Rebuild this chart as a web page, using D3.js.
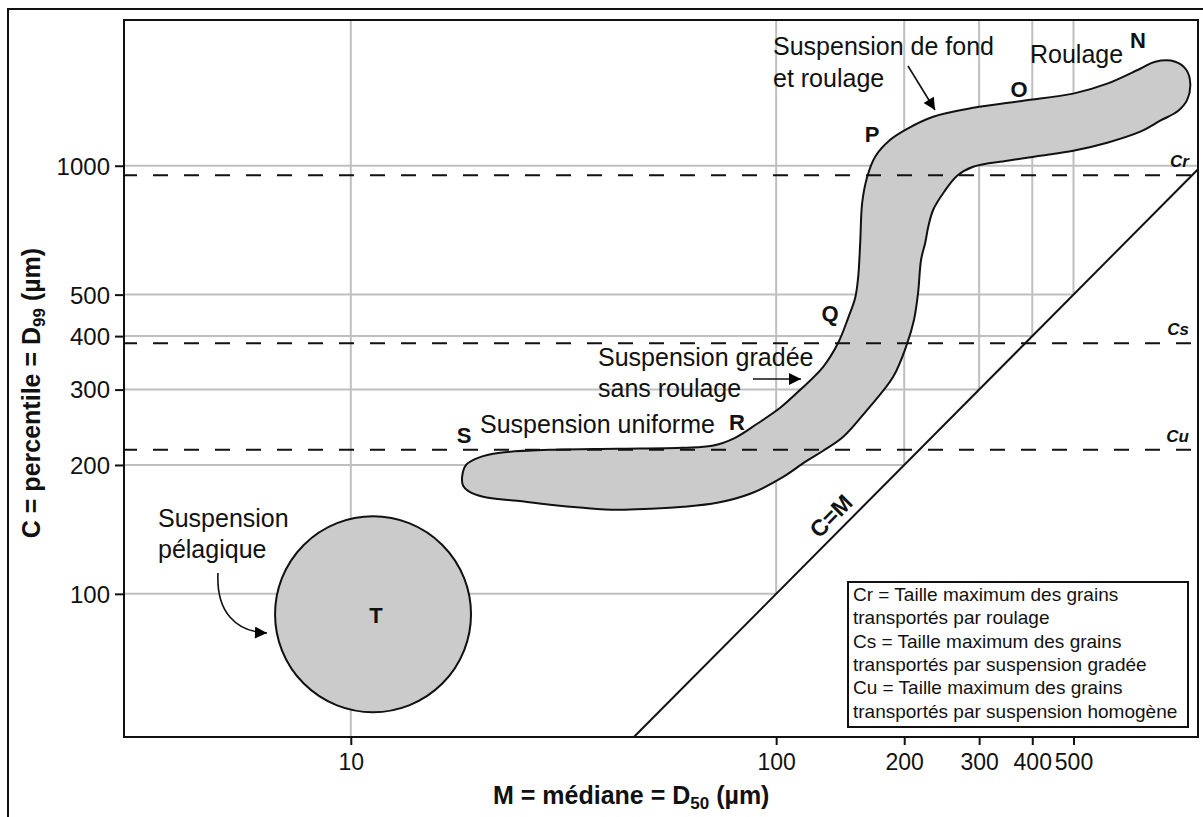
<!DOCTYPE html>
<html>
<head>
<meta charset="utf-8">
<script src="https://cdn.jsdelivr.net/npm/d3@7"></script>
<style>
  body { margin: 0; background: #fff; }
  svg { display: block; }
  text { font-family: "Liberation Sans", Arial, Helvetica, sans-serif; fill: #111; }
</style>
</head>
<body>
<svg id="chart" width="1203" height="817"></svg>
<script>
// ---- Passega C–M diagram data ----
const xDomain = [2.93, 981];      // M (µm), log axis
const yDomain = [46.3, 2190];     // C (µm), log axis
const xTicks = [10, 100, 200, 300, 400, 500];
const yTicks = [100, 200, 300, 400, 500, 1000];

const thresholdNames = ["Cr", "Cs", "Cu"];
const thresholdValues = [950, 385, 217];

// N-O-P-Q-R-S field outline, [M, C] in µm, clockwise from the S end
const bandOutline = [
  [18.27, 187.6], [18.67, 200.1], [19.92, 207.8], [22.45, 213.5], [29.41, 217.0],
  [42.28, 218.2], [60.44, 219.4], [70.71, 221.7], [80.09, 231.5], [90.23, 249.6],
  [102.2, 272.0], [113.9, 299.6], [129.0, 339.1], [139.9, 385.9], [147.7, 441.4],
  [153.4, 491.6], [155.9, 550.3], [157.6, 660.9], [159.3, 819.5], [163.7, 942.6],
  [170.9, 1050], [185.4, 1150], [203.2, 1220], [234.0, 1302], [290.5, 1366],
  [380.9, 1419], [499.3, 1474], [600.1, 1555], [717.6, 1685], [778.3, 1750],
  [867.4, 1750], [920.6, 1676], [940.8, 1555], [925.6, 1427], [881.6, 1344],
  [799.6, 1274], [717.6, 1201], [600.1, 1132], [499.3, 1084], [417.6, 1055],
  [349.3, 1027], [290.5, 994.6], [266.4, 947.7], [248.3, 869.5], [234.0, 789.2],
  [227.8, 720.2], [224.1, 660.9], [219.1, 603.0], [215.6, 505.0], [210.9, 436.7],
  [203.1, 383.8], [188.4, 321.3], [163.7, 269.1], [143.8, 232.7], [129.0, 215.9],
  [117.0, 203.4], [103.9, 187.6], [86.88, 171.3], [72.65, 163.2], [60.44, 159.7],
  [50.56, 158.0], [42.28, 157.1], [35.17, 158.8], [29.41, 161.4], [24.61, 164.9],
  [20.47, 168.5], [18.87, 174.0], [18.37, 178.8]
];

// T field (pelagic suspension): centre and horizontal extent
const pelagicCenter = [11.28, 89.6];
const pelagicSpanM = [6.64, 19.18];

const legendLines = [
  "Cr = Taille maximum des grains",
  "transportés par roulage",
  "Cs = Taille maximum des grains",
  "transportés par suspension gradée",
  "Cu = Taille maximum des grains",
  "transportés par suspension homogène"
];

// ---- layout ----
const svg = d3.select("#chart");
const plot = { left: 124, top: 20, right: 1198, bottom: 737 };

const x = d3.scaleLog().domain(xDomain).range([plot.left, plot.right]);
const y = d3.scaleLog().domain(yDomain).range([plot.bottom, plot.top]);

const defs = svg.append("defs");
defs.append("clipPath").attr("id", "plotClip")
  .append("rect")
  .attr("x", plot.left).attr("y", plot.top)
  .attr("width", plot.right - plot.left).attr("height", plot.bottom - plot.top);
defs.append("marker")
  .attr("id", "arrowHead")
  .attr("viewBox", "0 0 10 10")
  .attr("refX", 10).attr("refY", 5)
  .attr("markerUnits", "userSpaceOnUse")
  .attr("markerWidth", 17).attr("markerHeight", 12)
  .attr("orient", "auto")
  .append("path").attr("d", "M0,0 L10,5 L0,10 Z").attr("fill", "#000");

// outer frame
svg.append("path")
  .attr("d", "M8,817 V9 H1203")
  .attr("fill", "none").attr("stroke", "#111").attr("stroke-width", 2);

const inner = svg.append("g").attr("clip-path", "url(#plotClip)");

// grid only in the C >= M half of the diagram
inner.append("g").selectAll("line.vgrid").data(xTicks).join("line")
  .attr("x1", d => x(d)).attr("x2", d => x(d))
  .attr("y1", y(yDomain[1]))
  .attr("y2", d => y(Math.max(d, yDomain[0])))
  .attr("stroke", "#bfbfbf").attr("stroke-width", 2);
inner.append("g").selectAll("line.hgrid").data(yTicks).join("line")
  .attr("y1", d => y(d)).attr("y2", d => y(d))
  .attr("x1", x(xDomain[0]))
  .attr("x2", d => x(Math.min(d, xDomain[1])))
  .attr("stroke", "#bfbfbf").attr("stroke-width", 2);

// C = M line
inner.append("line")
  .attr("x1", x(yDomain[0])).attr("y1", y(yDomain[0]))
  .attr("x2", x(xDomain[1])).attr("y2", y(xDomain[1]))
  .attr("stroke", "#111").attr("stroke-width", 2);

// N-O-P-Q-R-S field
const bandLine = d3.line()
  .x(d => x(d[0])).y(d => y(d[1]))
  .curve(d3.curveCatmullRomClosed.alpha(0.5));
inner.append("path")
  .attr("d", bandLine(bandOutline))
  .attr("fill", "#cbcbcb").attr("stroke", "#111").attr("stroke-width", 2);

// T field
const tRadius = (x(pelagicSpanM[1]) - x(pelagicSpanM[0])) / 2;
inner.append("circle")
  .attr("cx", x(pelagicCenter[0])).attr("cy", y(pelagicCenter[1]))
  .attr("r", tRadius)
  .attr("fill", "#cbcbcb").attr("stroke", "#111").attr("stroke-width", 2);

// Cr, Cs, Cu thresholds
inner.append("g").selectAll("line").data(thresholdValues).join("line")
  .attr("x1", plot.left - 2).attr("x2", plot.right - 6)
  .attr("y1", d => y(d)).attr("y2", d => y(d))
  .attr("stroke", "#111").attr("stroke-width", 2)
  .attr("stroke-dasharray", "15,16");
svg.append("g").selectAll("text").data(thresholdNames).join("text")
  .attr("x", plot.right - 9)
  .attr("y", (d, i) => y(thresholdValues[i]) - 8)
  .attr("text-anchor", "end")
  .attr("font-size", 17).attr("font-weight", "bold").attr("font-style", "italic")
  .text(d => d);

// plot border
svg.append("rect")
  .attr("x", plot.left).attr("y", plot.top)
  .attr("width", plot.right - plot.left).attr("height", plot.bottom - plot.top)
  .attr("fill", "none").attr("stroke", "#111").attr("stroke-width", 2);

// axes
const xAxis = d3.axisBottom(x).tickValues(xTicks).tickFormat(d3.format("d"))
  .tickSize(8).tickSizeOuter(0);
const gx = svg.append("g").attr("transform", `translate(0,${plot.bottom})`).call(xAxis);
gx.select(".domain").remove();
gx.selectAll(".tick line").attr("stroke", "#111").attr("stroke-width", 2);
gx.selectAll(".tick text").attr("font-size", 23).attr("dy", 0).attr("y", 33)
  .attr("font-family", "Liberation Sans, Arial, sans-serif").attr("fill", "#111");

const yAxis = d3.axisLeft(y).tickValues(yTicks).tickFormat(d3.format("d"))
  .tickSize(9).tickSizeOuter(0);
const gy = svg.append("g").attr("transform", `translate(${plot.left},0)`).call(yAxis);
gy.select(".domain").remove();
gy.selectAll(".tick line").attr("stroke", "#111").attr("stroke-width", 2);
gy.selectAll(".tick text").attr("font-size", 24).attr("x", -14).attr("dy", "0.35em")
  .attr("font-family", "Liberation Sans, Arial, sans-serif").attr("fill", "#111");

// axis titles
const xTitle = svg.append("text")
  .attr("x", 493).attr("y", 804)
  .attr("font-size", 25).attr("font-weight", "bold");
xTitle.append("tspan").text("M = médiane = D");
xTitle.append("tspan").attr("font-size", 17).attr("dy", 5).text("50");
xTitle.append("tspan").attr("dy", -5).text(" (µm)");

const yTitle = svg.append("text")
  .attr("transform", "translate(40,393) rotate(-90)")
  .attr("text-anchor", "middle")
  .attr("font-size", 25).attr("font-weight", "bold");
yTitle.append("tspan").text("C = percentile = D");
yTitle.append("tspan").attr("font-size", 17).attr("dy", 5).text("99");
yTitle.append("tspan").attr("dy", -5).text(" (µm)");

// C=M label along the diagonal
const cmAt = 143;
const cmAngle = Math.atan2(y(xDomain[1]) - y(yDomain[0]), x(xDomain[1]) - x(yDomain[0])) * 180 / Math.PI;
svg.append("text")
  .attr("transform", `translate(${x(cmAt)},${y(cmAt)}) rotate(${cmAngle})`)
  .attr("y", -8)
  .attr("text-anchor", "middle")
  .attr("font-size", 23).attr("font-weight", "bold")
  .text("C=M");

// process labels
const notes = [
  ["Suspension de fond", 773, 55],
  ["et roulage", 773, 87],
  ["Roulage", 1030, 63],
  ["Suspension gradée", 598, 366],
  ["sans roulage", 598, 397],
  ["Suspension uniforme", 480, 433],
  ["Suspension", 158, 527],
  ["pélagique", 158, 558]
];
svg.append("g").selectAll("text").data(notes).join("text")
  .attr("x", d => d[1]).attr("y", d => d[2])
  .attr("font-size", 25)
  .text(d => d[0]);

const letters = [
  ["N", 1138, 48], ["O", 1019, 97], ["P", 872, 142], ["Q", 830, 321],
  ["R", 737, 430], ["S", 464, 443], ["T", 376, 623]
];
svg.append("g").selectAll("text").data(letters).join("text")
  .attr("x", d => d[1]).attr("y", d => d[2])
  .attr("text-anchor", "middle")
  .attr("font-size", 22).attr("font-weight", "bold")
  .text(d => d[0]);

// arrows
const arrows = svg.append("g").attr("fill", "none").attr("stroke", "#111").attr("stroke-width", 1.6);
arrows.append("path").attr("d", "M908,66 L935,110").attr("marker-end", "url(#arrowHead)");
arrows.append("path").attr("d", "M753,379 L801,379").attr("marker-end", "url(#arrowHead)");
arrows.append("path").attr("d", "M218,573 C216,612 236,632 267,633").attr("marker-end", "url(#arrowHead)");

// legend box
const legend = svg.append("g");
legend.append("rect")
  .attr("x", 848).attr("y", 582).attr("width", 340).attr("height", 145)
  .attr("fill", "#fff").attr("stroke", "#111").attr("stroke-width", 2);
legend.selectAll("text").data(legendLines).join("text")
  .attr("x", 853)
  .attr("y", (d, i) => 601 + i * 23.3)
  .attr("font-size", 19)
  .text(d => d);
</script>
</body>
</html>
